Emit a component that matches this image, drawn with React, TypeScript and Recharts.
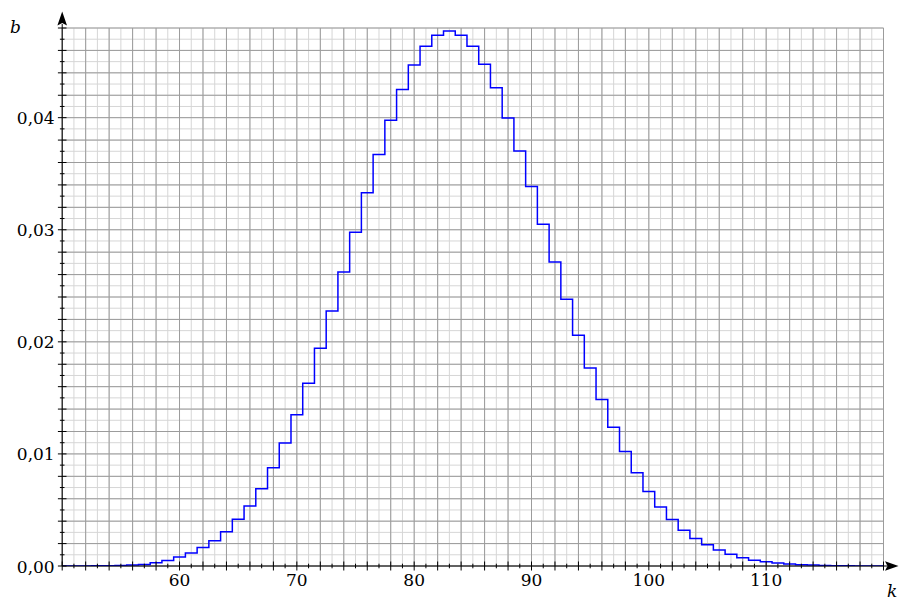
import { LineChart, Line, XAxis, YAxis, CartesianGrid } from 'recharts'

// k = number of successes, b = probability
const ks = [
  50, 51, 52, 53, 54, 55, 56, 57, 58, 59,
  60, 61, 62, 63, 64, 65, 66, 67, 68, 69,
  70, 71, 72, 73, 74, 75, 76, 77, 78, 79,
  80, 81, 82, 83, 84, 85, 86, 87, 88, 89,
  90, 91, 92, 93, 94, 95, 96, 97, 98, 99,
  100, 101, 102, 103, 104, 105, 106, 107, 108, 109,
  110, 111, 112, 113, 114, 115, 116, 117, 118, 119,
  120,
]
const probs = [
  0, 0, 0.00001, 0.00002, 0.00003, 0.00005, 0.00008, 0.00014, 0.00028, 0.00050,
  0.00081, 0.00117, 0.00165, 0.00225, 0.00306, 0.00416, 0.00535, 0.00690, 0.00877, 0.01098,
  0.01350, 0.01631, 0.01943, 0.02276, 0.02623, 0.02977, 0.03331, 0.03671, 0.03977, 0.04251,
  0.04471, 0.04638, 0.04736, 0.04774, 0.04736, 0.04638, 0.04477, 0.04266, 0.03998, 0.03703,
  0.03385, 0.03049, 0.02712, 0.02379, 0.02058, 0.01766, 0.01486, 0.01239, 0.01022, 0.00832,
  0.00665, 0.00527, 0.00415, 0.00319, 0.00245, 0.00189, 0.00142, 0.00104, 0.00074, 0.00052,
  0.00037, 0.00026, 0.00018, 0.00012, 0.00008, 0.00005, 0.00003, 0.00002, 0.00001, 0.00001,
  0,
]

const xLabels = [60, 70, 80, 90, 100, 110]
const yLabels = [0, 0.01, 0.02, 0.03, 0.04]

// grid: one line per unit / per 0.001, darker every second one
const xGridAll = ks
const xGridMajor = ks.filter((k) => k % 2 === 0)
const yGridAll = Array.from({ length: 49 }, (_, i) => i / 1000)
const yGridMajor = yGridAll.filter((_, i) => i % 2 === 0)

const data = ks.map((k, i) => ({ k, b: probs[i] }))

const FONT = '"DejaVu Serif", serif'

function XTick(props: any) {
  const { x, y, payload } = props
  const v = payload.value
  const len = v % 2 === 0 ? 4.5 : 2.3
  return (
    <g>
      <line x1={x} x2={x} y1={y - len} y2={y + len} stroke="#000" strokeWidth={1} />
      {xLabels.includes(v) && (
        <text x={x} y={y + 19.5} textAnchor="middle" fontFamily={FONT} fontSize={17} fill="#000">
          {v}
        </text>
      )}
      {v === 120 && (
        <>
          <line x1={x} x2={x + 4} y1={y} y2={y} stroke="#000" strokeWidth={1} />
          <path d={`M${x + 15},${y} L${x + 1.5},${y - 4.8} L${x + 4},${y} L${x + 1.5},${y + 4.8} Z`} fill="#000" />
        </>
      )}
    </g>
  )
}

function YTick(props: any) {
  const { x, y, payload } = props
  const m = Math.round(payload.value * 1000)
  const len = m % 2 === 0 ? 4.3 : 2.3
  return (
    <g>
      <line x1={x - len} x2={x + len} y1={y} y2={y} stroke="#000" strokeWidth={1} />
      {yLabels.some((l) => Math.round(l * 1000) === m) && (
        <text x={x - 7.5} y={y + 6.5} textAnchor="end" fontFamily={FONT} fontSize={17} fill="#000">
          {payload.value.toFixed(2).replace('.', ',')}
        </text>
      )}
      {m === 48 && (
        <>
          <line x1={x} x2={x} y1={y} y2={y - 4} stroke="#000" strokeWidth={1} />
          <path d={`M${x},${y - 16.5} L${x - 4.8},${y - 2.5} L${x},${y - 5} L${x + 4.8},${y - 2.5} Z`} fill="#000" />
        </>
      )}
    </g>
  )
}

export default function App() {
  return (
    <div style={{ position: 'absolute', left: 0, top: 0, width: 901, height: 601, overflow: 'hidden', background: '#fff' }}>
      <LineChart width={901} height={601} data={data} margin={{ top: 28, right: 17.5, bottom: 0, left: 0 }}>
        <CartesianGrid stroke="#d6d6d6" strokeWidth={1} verticalValues={xGridAll} horizontalValues={yGridAll} />
        <CartesianGrid stroke="#9c9c9c" strokeWidth={1} verticalValues={xGridMajor} horizontalValues={yGridMajor} />
        <XAxis
          dataKey="k"
          type="number"
          domain={[50, 120]}
          ticks={xGridAll}
          interval={0}
          height={35}
          tickSize={0}
          tickMargin={0}
          tickLine={false}
          axisLine={{ stroke: '#000', strokeWidth: 1 }}
          tick={(p: any) => <XTick {...p} />}
          allowDataOverflow
        />
        <YAxis
          type="number"
          domain={[0, 0.048]}
          ticks={yGridAll}
          interval={0}
          width={62.2}
          tickSize={0}
          tickMargin={0}
          tickLine={false}
          axisLine={{ stroke: '#000', strokeWidth: 1 }}
          tick={(p: any) => <YTick {...p} />}
          allowDataOverflow
        />
        <Line type="step" dataKey="b" stroke="#0000ff" strokeWidth={1.5} dot={false} isAnimationActive={false} />
      </LineChart>
      <svg width={901} height={601} style={{ position: 'absolute', left: 0, top: 0, pointerEvents: 'none' }}>
        <text x={10} y={33} fontFamily={FONT} fontStyle="italic" fontSize={17} fill="#000">b</text>
        <text x={887} y={597} fontFamily={FONT} fontStyle="italic" fontSize={17} fill="#000">k</text>
      </svg>
    </div>
  )
}
